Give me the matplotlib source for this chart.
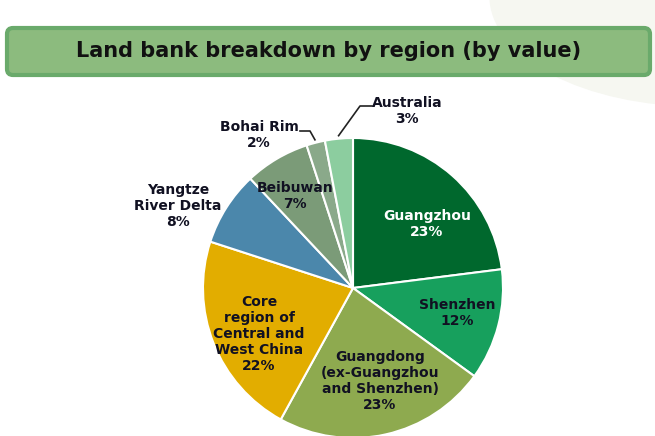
import numpy as np
import matplotlib.pyplot as plt
from matplotlib.patches import FancyBboxPatch, Ellipse

regions = ["Guangzhou", "Shenzhen", "Guangdong\n(ex-Guangzhou\nand Shenzhen)",
           "Core\nregion of\nCentral and\nWest China", "Yangtze\nRiver Delta",
           "Beibuwan", "Bohai Rim", "Australia"]
shares = [23, 12, 23, 22, 8, 7, 2, 3]
colors = ["#00682d", "#17a05d", "#8eaa4f", "#e2ad00", "#4b87ab",
          "#7b9b78", "#8aa98a", "#8ccd9f"]

# layout: label centres in pixels (x, y from top)
label_pos = [(427, 224), (457, 313), (380, 381), (259, 334), (178, 206),
             (295, 196), (259, 135), (407, 111)]
label_color = ["white"] + ["#111122"] * 7

W, H = 655, 436
fig = plt.figure(figsize=(W / 100, H / 100), dpi=100)
ax = fig.add_axes([0, 0, 1, 1])

# faint background shape at top right
ax.add_patch(Ellipse((700, 440), 420, 220, color="#f6f7f1", zorder=0))

# title box
ax.add_patch(FancyBboxPatch((7, H - 75), 643, 47, boxstyle="round,pad=0,rounding_size=6",
                            facecolor="#8cbb7e", edgecolor="#6aaa6b", linewidth=3, zorder=1))
ax.text(329, H - 51, "Land bank breakdown by region (by value)", ha="center", va="center",
        fontsize=15, fontweight="bold", color="#111111", zorder=2)

cx, cy, r = 353, H - 288, 150
wedges, _ = ax.pie(shares, colors=colors, startangle=90, counterclock=False,
                   center=(cx, cy), radius=r,
                   wedgeprops=dict(edgecolor="white", linewidth=1.5))
ax.set_xlim(0, W)
ax.set_ylim(0, H)
ax.set_aspect("equal")
ax.axis("off")

for name, s, (x, y), c in zip(regions, shares, label_pos, label_color):
    ax.text(x, H - y, f"{name}\n{s}%", ha="center", va="center", fontsize=10,
            fontweight="bold", color=c, linespacing=1.2, zorder=5)

# leader lines for the small slices
leaders = {6: [(300, 131), (310, 131)], 7: [(372, 106), (360, 106)]}
for idx, pts in leaders.items():
    w = wedges[idx]
    ang = np.deg2rad((w.theta1 + w.theta2) / 2)
    px, py = cx + 1.02 * r * np.cos(ang), cy + 1.02 * r * np.sin(ang)
    xs = [p[0] for p in pts] + [px]
    ys = [H - p[1] for p in pts] + [py]
    ax.plot(xs, ys, color="#222222", linewidth=1.2, zorder=4)

fig.savefig("out.png", dpi=100)
